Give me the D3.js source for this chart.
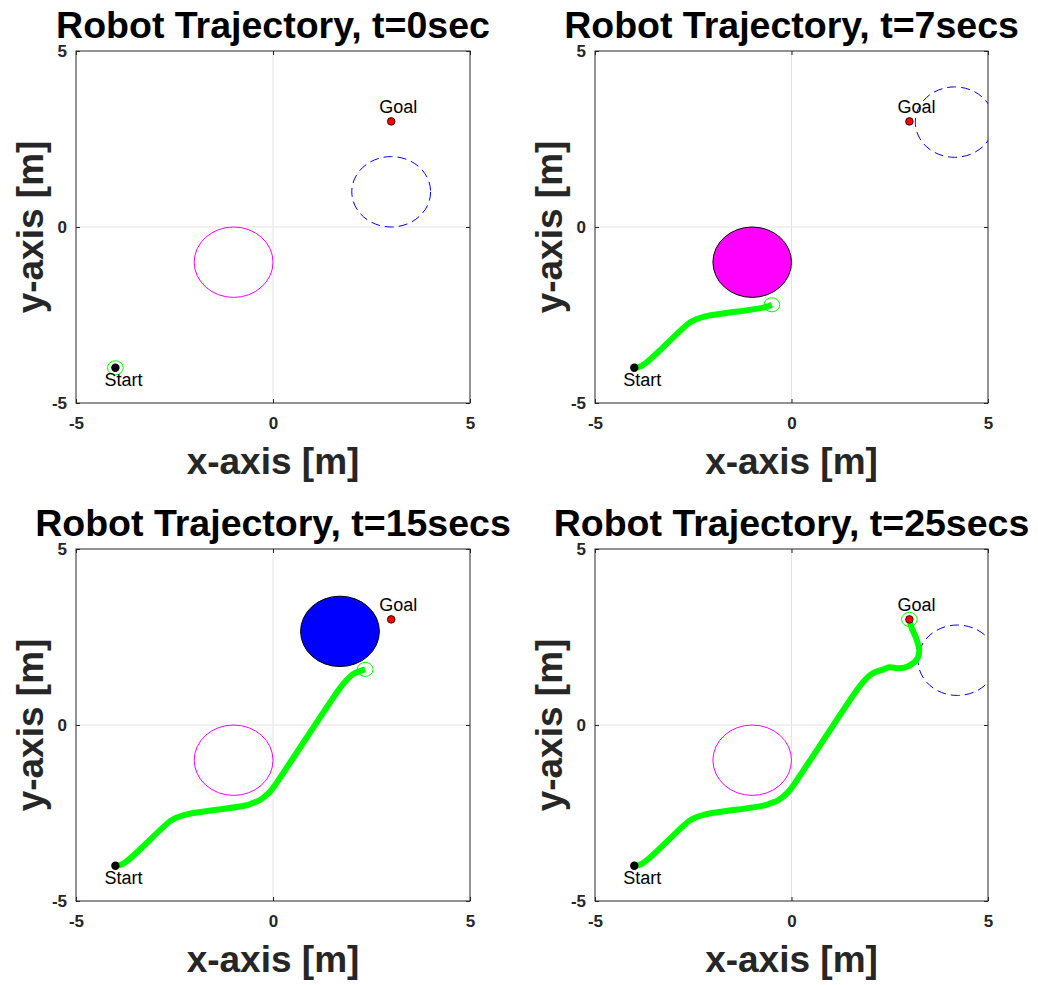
<!DOCTYPE html>
<html><head><meta charset="utf-8">
<script src="https://cdn.jsdelivr.net/npm/d3@7"></script>
<style>
body{margin:0;background:#fff;}
svg{display:block;}
text{font-family:"Liberation Sans",Arial,Helvetica,sans-serif;}
</style>
</head><body>
<svg id="chart" width="1038" height="985"></svg>
<script>
// ---- data ----
const titles = ["Robot Trajectory, t=0sec", "Robot Trajectory, t=7secs", "Robot Trajectory, t=15secs", "Robot Trajectory, t=25secs"];
const xTicks = [-5, 0, 5];
const yTicks = [-5, 0, 5];
const xDomain = [-5, 5];
const yDomain = [-5, 5];
const pathX = [-4.0, -3.8, -2.61, -2.44, -2.19, -0.67, -0.5, -0.33, -0.08, 0.05, 1.66, 1.83, 2.04, 2.34, 2.49, 2.74, 2.99, 3.21, 3.25, 3.17, 3.06, 3.0];
const pathY = [-4.0, -3.94, -2.73, -2.63, -2.54, -2.28, -2.21, -2.13, -1.90, -1.71, 0.99, 1.23, 1.45, 1.58, 1.64, 1.61, 1.68, 1.90, 2.13, 2.47, 2.75, 3.0];
const pathCounts = [1, 7, 14, 22];
const movingObsX = [3.0, 4.15, 1.7, 4.22];
const movingObsY = [1.0, 2.98, 2.66, 1.84];
const staticObsX = -1.0, staticObsY = -1.0;
const obstacleR = 1.0;
const robotR = 0.2;
const staticFilled = [false, true, false, false];
const movingFilled = [false, false, true, false];
const startXY = [-4, -4];
const goalXY = [3, 3];

// ---- layout ----
const layout = [
  {x0: 76, x1: 470, y0: 51, y1: 403},
  {x0: 595, x1: 988, y0: 51, y1: 403},
  {x0: 76, x1: 470, y0: 549, y1: 901},
  {x0: 595, x1: 988, y0: 549, y1: 901}
];
const axisCol = "#262626";
const svg = d3.select("#chart");

layout.forEach((L, i) => {
  const x = d3.scaleLinear().domain(xDomain).range([L.x0, L.x1]);
  const y = d3.scaleLinear().domain(yDomain).range([L.y1, L.y0]);
  const g = svg.append("g");
  const cid = "clip" + i;
  g.append("clipPath").attr("id", cid).append("rect")
    .attr("x", L.x0).attr("y", L.y0).attr("width", L.x1 - L.x0).attr("height", L.y1 - L.y0);

  // grid
  g.selectAll(".gx").data(xTicks.slice(1, -1)).enter().append("line")
    .attr("x1", d => x(d)).attr("x2", d => x(d)).attr("y1", L.y0).attr("y2", L.y1)
    .attr("stroke", "#e3e3e3").attr("stroke-width", 1);
  g.selectAll(".gy").data(yTicks.slice(1, -1)).enter().append("line")
    .attr("y1", d => y(d)).attr("y2", d => y(d)).attr("x1", L.x0).attr("x2", L.x1)
    .attr("stroke", "#e3e3e3").attr("stroke-width", 1);

  const content = g.append("g").attr("clip-path", `url(#${cid})`);
  const rx = r => x(r) - x(0);
  const ry = r => y(0) - y(r);

  // static obstacle
  content.append("ellipse")
    .attr("cx", x(staticObsX)).attr("cy", y(staticObsY))
    .attr("rx", rx(obstacleR)).attr("ry", ry(obstacleR))
    .attr("fill", staticFilled[i] ? "#ff00ff" : "none")
    .attr("stroke", staticFilled[i] ? "#000" : "#ff00ff")
    .attr("stroke-width", 1);
  // moving obstacle
  content.append("ellipse")
    .attr("cx", x(movingObsX[i])).attr("cy", y(movingObsY[i]))
    .attr("rx", rx(obstacleR)).attr("ry", ry(obstacleR))
    .attr("fill", movingFilled[i] ? "#0000ff" : "none")
    .attr("stroke", movingFilled[i] ? "#000" : "#0000ff")
    .attr("stroke-dasharray", movingFilled[i] ? null : "9,5")
    .attr("stroke-width", 1);

  // trajectory
  const n = pathCounts[i];
  const pts = d3.range(n).map(k => [pathX[k], pathY[k]]);
  if (n > 1) {
    const line = d3.line().x(d => x(d[0])).y(d => y(d[1])).curve(d3.curveCatmullRom.alpha(0.5));
    content.append("path").attr("d", line(pts))
      .attr("fill", "none").attr("stroke", "#00ff00").attr("stroke-width", 6)
      .attr("stroke-linejoin", "round");
  }
  // start & goal
  content.append("circle").attr("cx", x(startXY[0])).attr("cy", y(startXY[1])).attr("r", 4.2).attr("fill", "#000");
  content.append("circle").attr("cx", x(goalXY[0])).attr("cy", y(goalXY[1])).attr("r", 3.8)
    .attr("fill", "#ff0000").attr("stroke", "#000").attr("stroke-width", 0.8);
  // robot
  const last = pts[pts.length - 1];
  content.append("ellipse").attr("cx", x(last[0])).attr("cy", y(last[1]))
    .attr("rx", rx(robotR)).attr("ry", ry(robotR))
    .attr("fill", "none").attr("stroke", "#00ff00").attr("stroke-width", 1);

  // labels
  g.append("text").attr("x", x(goalXY[0]) - 12).attr("y", y(goalXY[1]) - 8)
    .attr("font-size", 18).attr("fill", "#000").text("Goal");
  g.append("text").attr("x", x(startXY[0]) - 11).attr("y", y(startXY[1]) + 18)
    .attr("font-size", 18).attr("fill", "#000").text("Start");

  // axes
  const fmt = d => String(d);
  const ax = g.append("g").attr("transform", `translate(0,${L.y1})`)
    .call(d3.axisBottom(x).tickValues(xTicks).tickSize(-4).tickPadding(13.5).tickFormat(fmt));
  const ay = g.append("g").attr("transform", `translate(${L.x0},0)`)
    .call(d3.axisLeft(y).tickValues(yTicks).tickSize(-4).tickPadding(9).tickFormat(fmt));
  const at = g.append("g").attr("transform", `translate(0,${L.y0})`)
    .call(d3.axisTop(x).tickValues(xTicks).tickSize(-4).tickFormat(""));
  const ar = g.append("g").attr("transform", `translate(${L.x1},0)`)
    .call(d3.axisRight(y).tickValues(yTicks).tickSize(-4).tickFormat(""));
  [ax, ay, at, ar].forEach(a => {
    a.select(".domain").remove();
    a.selectAll("line").attr("stroke", axisCol);
    a.selectAll("text").attr("fill", axisCol).attr("font-size", 17).attr("font-weight", "bold")
      .style("font-family", '"Liberation Sans",Arial,sans-serif');
  });
  g.append("rect").attr("x", L.x0).attr("y", L.y0).attr("width", L.x1 - L.x0).attr("height", L.y1 - L.y0)
    .attr("fill", "none").attr("stroke", axisCol).attr("stroke-width", 1);

  // title and axis labels
  const cx = (L.x0 + L.x1) / 2, cy = (L.y0 + L.y1) / 2;
  g.append("text").attr("x", cx).attr("y", L.y0 - 13).attr("text-anchor", "middle")
    .attr("font-size", 37.5).attr("font-weight", "bold").attr("fill", "#000").text(titles[i]);
  g.append("text").attr("x", cx).attr("y", L.y1 + 70.5).attr("text-anchor", "middle")
    .attr("font-size", 37).attr("font-weight", "bold").attr("fill", axisCol).text("x-axis [m]");
  g.append("text").attr("transform", `translate(${L.x0 - 33},${cy}) rotate(-90)`).attr("text-anchor", "middle")
    .attr("font-size", 37).attr("font-weight", "bold").attr("fill", axisCol).text("y-axis [m]");
});
</script>
</body></html>
